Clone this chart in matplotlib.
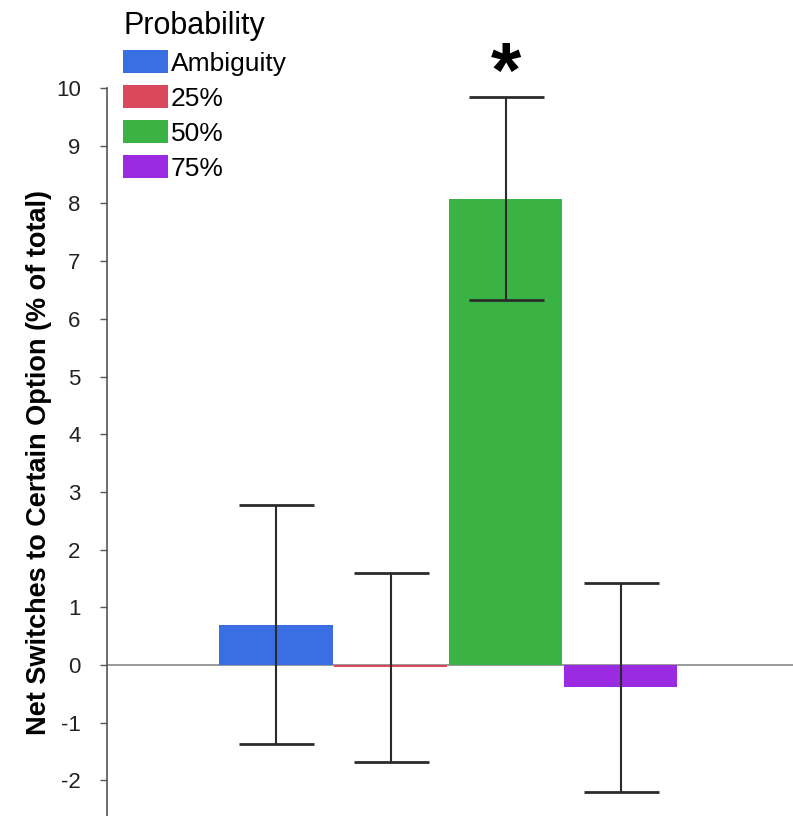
import matplotlib
matplotlib.use("Agg")
import matplotlib.pyplot as plt
from matplotlib.patches import Patch

# ---- data ----
categories = ["Ambiguity", "25%", "50%", "75%"]
means = [0.70, -0.04, 8.08, -0.39]
errors = [2.07, 1.64, 1.76, 1.81]
colors = ["#3a6ee3", "#d9485c", "#3bb244", "#9b2ae3"]
star_y = 10.2

plt.rcParams['font.family'] = ['Liberation Sans', 'DejaVu Sans']
plt.rcParams['axes.unicode_minus'] = False

fig = plt.figure(figsize=(7.93, 8.16), dpi=100)
ax = fig.add_axes([0.135, 0.0, 0.865, 0.892])

x = list(range(len(categories)))
ax.bar(x, means, width=0.985, color=colors, zorder=2)
ax.errorbar(x, means, yerr=errors, fmt='none', ecolor='#2b2b2b',
            elinewidth=1.5, capsize=27, capthick=2, zorder=3)

ax.axhline(0, color='#888888', lw=1.2, zorder=1)
ax.text(2, star_y, "*", ha='center', va='center', fontsize=56, fontweight='bold',
        clip_on=False)

ax.set_xlim(-1.47, 4.5)
ax.set_ylim(-2.62, 10.0)
ax.set_yticks(range(-2, 11))
ax.set_xticks([])
for s in ['top', 'right', 'bottom']:
    ax.spines[s].set_visible(False)
ax.spines['left'].set_color('#555555')
ax.spines['left'].set_linewidth(1.2)
ax.tick_params(axis='y', direction='out', length=5, width=1, color='#555555',
               labelsize=16, pad=14, labelcolor='#222222')
ax.set_ylabel("Net Switches to Certain Option (% of total)", fontsize=19.5,
              fontweight='bold')
ax.yaxis.set_label_coords(-0.08, 0.485)

handles = [Patch(facecolor=c, label=l) for c, l in zip(colors, categories)]
leg = fig.legend(handles=handles, title="Probability", loc='upper left',
                 bbox_to_anchor=(0.152, 0.99), frameon=False, fontsize=19,
                 title_fontsize=22, handlelength=1.7, handleheight=0.95,
                 handletextpad=0.1, labelspacing=0.36, borderaxespad=0.0,
                 borderpad=0.1)
leg._legend_box.align = "left"

fig.savefig("out.png", dpi=100)
